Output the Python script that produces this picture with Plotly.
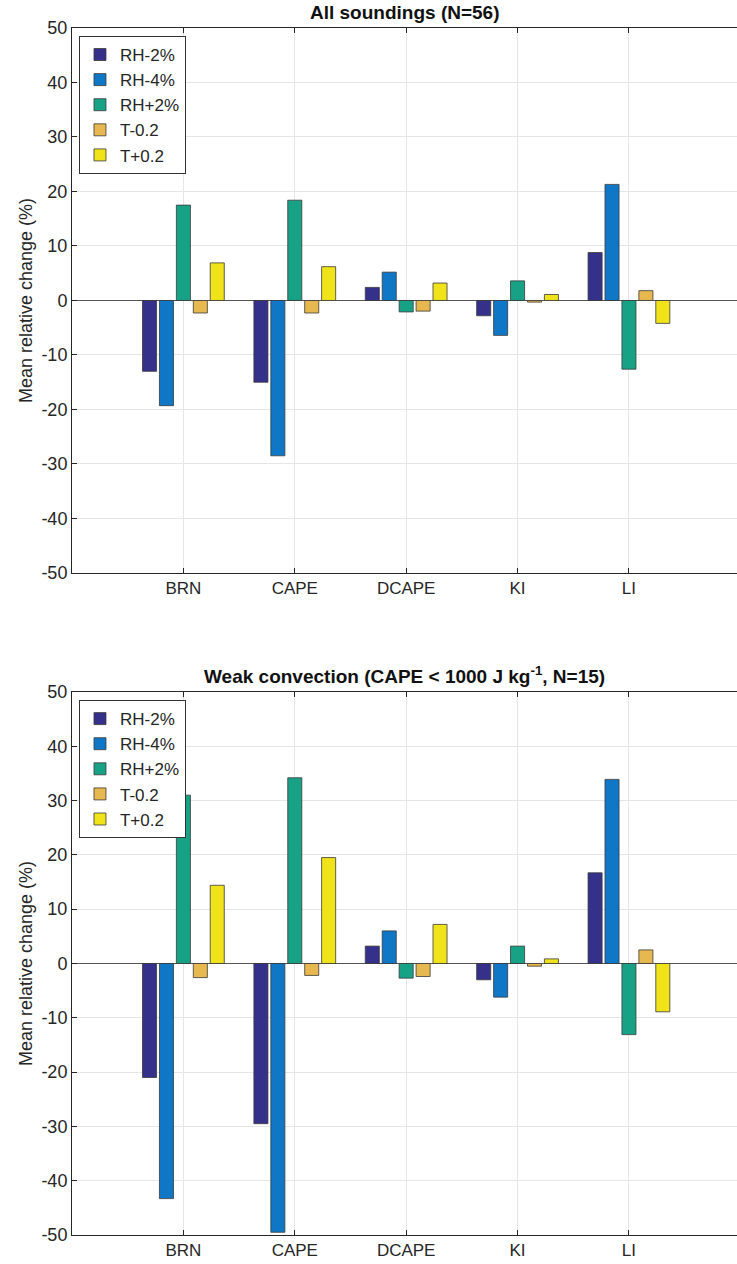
import plotly.graph_objects as go
from plotly.subplots import make_subplots

categories = ["BRN", "CAPE", "DCAPE", "KI", "LI"]
series_names = ["RH-2%", "RH-4%", "RH+2%", "T-0.2", "T+0.2"]

# Panel 1: All soundings (N=56)
all_rh_m2 = [-13.0, -15.0, 2.4, -2.8, 8.8]
all_rh_m4 = [-19.3, -28.5, 5.2, -6.4, 21.3]
all_rh_p2 = [17.5, 18.4, -2.1, 3.6, -12.6]
all_t_m02 = [-2.3, -2.3, -1.95, -0.3, 1.8]
all_t_p02 = [6.9, 6.2, 3.2, 1.1, -4.2]

# Panel 2: Weak convection (CAPE < 1000 J/kg, N=15)
weak_rh_m2 = [-21.0, -29.5, 3.2, -3.0, 16.7]
weak_rh_m4 = [-43.3, -49.5, 6.0, -6.2, 33.9]
weak_rh_p2 = [31.0, 34.2, -2.7, 3.2, -13.1]
weak_t_m02 = [-2.6, -2.2, -2.4, -0.5, 2.5]
weak_t_p02 = [14.4, 19.5, 7.2, 0.85, -8.9]

y_ticks = [-50, -40, -30, -20, -10, 0, 10, 20, 30, 40, 50]
y_tick_labels = ["-50", "-40", "-30", "-20", "-10", "0", "10", "20", "30", "40", "50"]
colors = ["#35308A", "#0F77C6", "#17A286", "#E6B84F", "#F0E31A"]

FONT = "Arial, Liberation Sans, Helvetica, sans-serif"
AX = "#262626"

fig = make_subplots(rows=2, cols=1, vertical_spacing=0.0986)
fig.update_layout(yaxis=dict(domain=[0.5485, 1.0]), yaxis2=dict(domain=[0.0, 0.4499]))

x_pos = list(range(1, len(categories) + 1))

panels = [
    (1, "legend", [all_rh_m2, all_rh_m4, all_rh_p2, all_t_m02, all_t_p02]),
    (2, "legend2", [weak_rh_m2, weak_rh_m4, weak_rh_p2, weak_t_m02, weak_t_p02]),
]
for row, leg, data in panels:
    for name, vals, col in zip(series_names, data, colors):
        fig.add_trace(
            go.Bar(
                x=x_pos, y=vals, name=name, legend=leg,
                marker=dict(color=col, line=dict(color="#3a3a3a", width=0.8)),
                hoverinfo="x+y+name",
            ),
            row=row, col=1,
        )

for r in (1, 2):
    fig.update_xaxes(
        range=[0, 5.97], tickvals=x_pos, ticktext=categories,
        showgrid=True, gridcolor="#E6E6E6", gridwidth=1,
        showline=True, linecolor=AX, linewidth=1, mirror="ticks",
        ticks="inside", ticklen=5, tickcolor=AX,
        tickfont=dict(family=FONT, size=17, color=AX),
        zeroline=False, automargin=False, row=r, col=1,
    )
    fig.update_yaxes(
        range=[-50, 50], tickvals=y_ticks, ticktext=y_tick_labels,
        showgrid=True, gridcolor="#E6E6E6", gridwidth=1,
        showline=True, linecolor=AX, linewidth=1, mirror=False,
        ticks="inside", ticklen=5, tickcolor=AX,
        tickfont=dict(family=FONT, size=18, color=AX),
        zeroline=True, zerolinecolor="#555555", zerolinewidth=1,
        automargin=False,
        title=dict(text="Mean relative change (%)", standoff=4,
                   font=dict(family=FONT, size=18, color=AX)),
        row=r, col=1,
    )

legend_style = dict(
    xref="paper", yref="paper", xanchor="left", yanchor="top",
    bgcolor="white", bordercolor="#333333", borderwidth=1,
    font=dict(family=FONT, size=17, color=AX),
    tracegroupgap=0, itemwidth=30,
)

fig.update_layout(
    width=737, height=1264,
    margin=dict(l=72, r=0, t=28, b=29),
    plot_bgcolor="white", paper_bgcolor="white",
    barmode="group", bargap=0.24, bargroupgap=0.17,
    showlegend=True,
    legend=dict(x=0.0105, y=0.9934, **legend_style),
    legend2=dict(x=0.0105, y=0.4432, **legend_style),
    font=dict(family=FONT, color=AX),
    annotations=[
        dict(text="<b>All soundings (N=56)</b>", xref="paper", yref="paper",
             x=0.5, y=1.0, yshift=3, xanchor="center", yanchor="bottom",
             showarrow=False, font=dict(family=FONT, size=19, color="#111111")),
        dict(text="<b>Weak convection (CAPE &lt; 1000 J kg<sup>-1</sup>, N=15)</b>",
             xref="paper", yref="paper",
             x=0.5, y=0.4499, yshift=3, xanchor="center", yanchor="bottom",
             showarrow=False, font=dict(family=FONT, size=19, color="#111111")),
    ],
)

fig.write_html(
    "out.html",
    config={"displayModeBar": False},
    post_script="document.body.style.margin='0';document.body.style.overflow='hidden';",
)
